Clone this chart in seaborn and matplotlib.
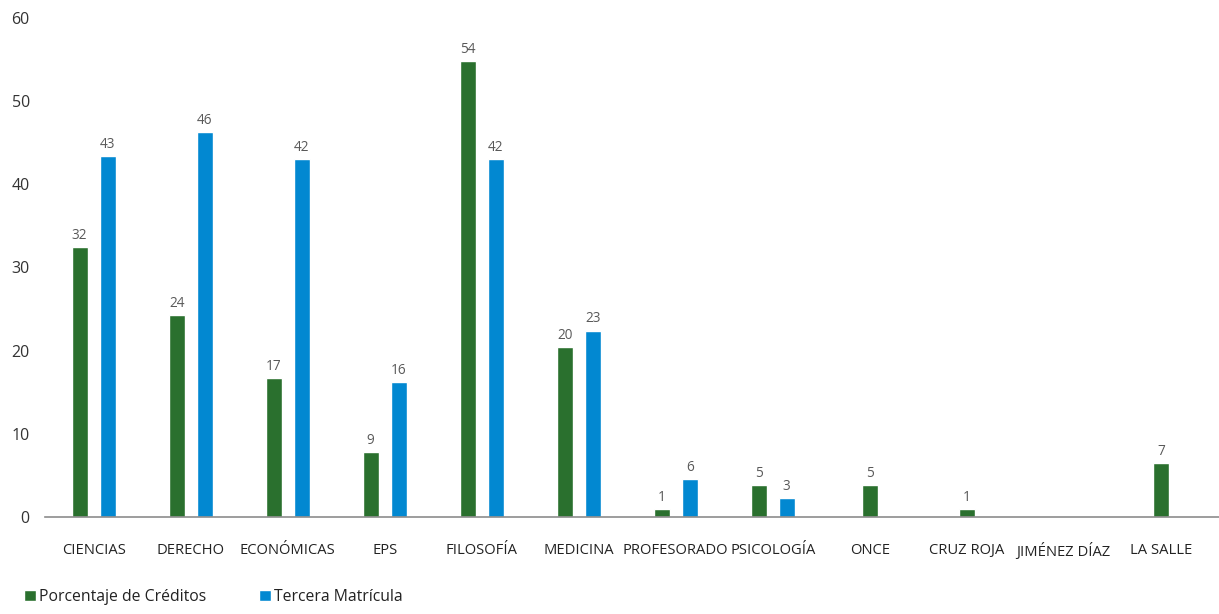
import matplotlib
matplotlib.use("Agg")
import matplotlib.pyplot as plt
import seaborn as sns
import pandas as pd

# Data
categorias = ['CIENCIAS', 'DERECHO', 'ECONÓMICAS', 'EPS', 'FILOSOFÍA', 'MEDICINA',
              'PROFESORADO', 'PSICOLOGÍA', 'ONCE', 'CRUZ ROJA', 'JIMÉNEZ DÍAZ', 'LA SALLE']
creditos = [32.4, 24.3, 16.7, 7.8, 54.8, 20.4, 1.0, 3.8, 3.8, 1.0, 0, 6.5]
tercera = [43.4, 46.3, 43.0, 16.2, 43.0, 22.4, 4.6, 2.3, 0, 0, 0, 0]
creditos_lbl = ['32', '24', '17', '9', '54', '20', '1', '5', '5', '1', '', '7']
tercera_lbl = ['43', '46', '42', '16', '42', '23', '6', '3', '', '', '', '']
series = ['Porcentaje de Créditos', 'Tercera Matrícula']

verde = '#2a702e'
azul = '#0288d1'

df = pd.DataFrame({
    'categoria': categorias * 2,
    'serie': [series[0]] * len(categorias) + [series[1]] * len(categorias),
    'valor': creditos + tercera,
})

sns.set_style('white')
plt.rcParams['font.family'] = ['Open Sans', 'DejaVu Sans']

fig, ax = plt.subplots(figsize=(12.19, 6.14), dpi=100)
fig.subplots_adjust(left=0.037, right=1.0, bottom=0.158, top=0.971)

sns.barplot(data=df, x='categoria', y='valor', hue='serie', palette=[verde, azul],
            width=0.577, gap=0.43, ax=ax, saturation=1)

handles, labels = ax.get_legend_handles_labels()
ax.get_legend().remove()

# single bars sit in the middle of their category
for i in range(len(categorias)):
    if tercera[i] == 0 and creditos[i] > 0:
        bar = ax.containers[0][i]
        bar.set_x(i - bar.get_width() / 2)

ax.bar_label(ax.containers[0], labels=creditos_lbl, padding=3, fontsize=9.8, color='#595959')
ax.bar_label(ax.containers[1], labels=tercera_lbl, padding=3, fontsize=9.8, color='#595959')

ax.set_ylim(0, 60)
ax.set_yticks(range(0, 61, 10))
ax.set_xlim(-0.5, 11.6)
ax.set_xlabel('')
ax.set_ylabel('')

for s in ['top', 'right', 'left']:
    ax.spines[s].set_visible(False)
ax.spines['bottom'].set_color('#8c8c8c')
ax.spines['bottom'].set_linewidth(1.2)

ax.tick_params(axis='y', length=0, pad=11, labelsize=11.5, labelcolor='#333333')
ax.tick_params(axis='x', length=0, pad=19, labelsize=10.6, labelcolor='#222222')

fig.legend(handles, labels, loc='lower left', bbox_to_anchor=(0.008, -0.008), ncol=2,
           frameon=False, fontsize=11.3, handlelength=0.75, handleheight=0.75,
           handletextpad=0.2, columnspacing=3.4, labelcolor='#222222')

plt.savefig('out.png', dpi=100)
